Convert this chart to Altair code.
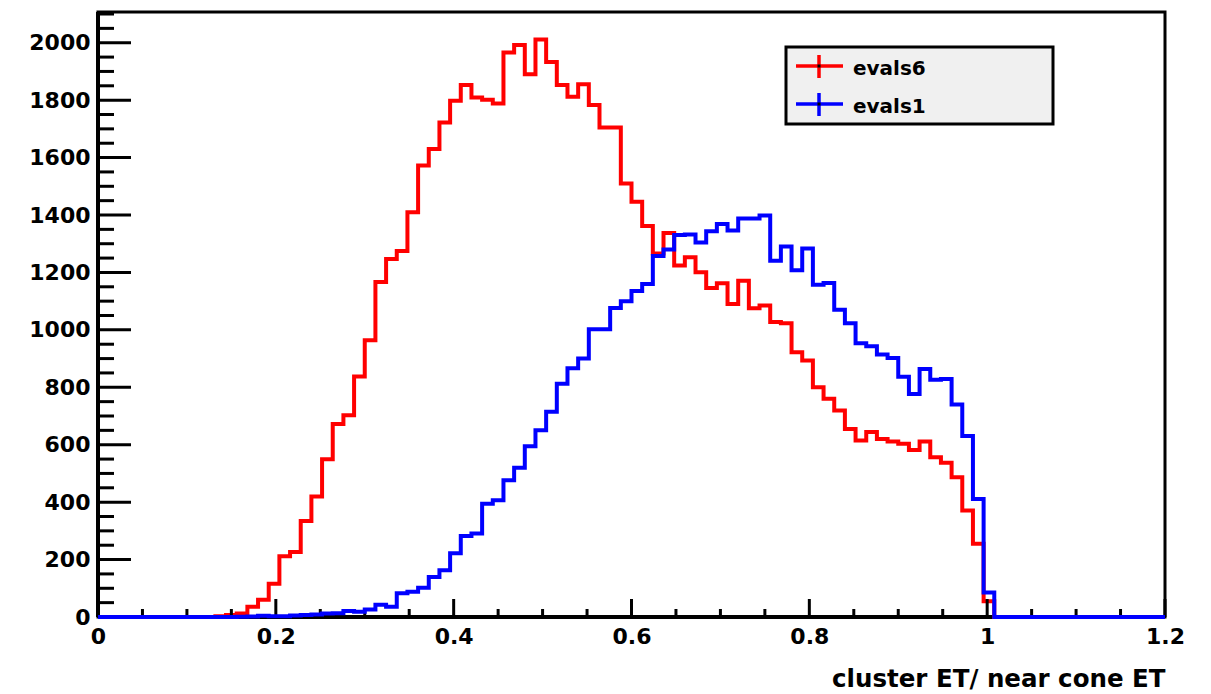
import altair as alt
import pandas as pd

# Histogram binning: 100 bins over [0, 1.2]
BIN_WIDTH = 0.012
N_BINS = 100

# Bin contents, one entry per bin starting at x = 0
evals6 = [
    0, 0, 0, 0, 0, 0, 0, 0, 0, 0,
    0, 3, 7, 12, 36, 60, 116, 212, 226, 334,
    420, 549, 672, 703, 838, 964, 1167, 1247, 1275, 1410,
    1572, 1630, 1722, 1798, 1853, 1809, 1801, 1788, 1966, 1992,
    1890, 2011, 1933, 1853, 1812, 1855, 1783, 1705, 1705, 1510,
    1446, 1362, 1266, 1337, 1224, 1253, 1201, 1146, 1162, 1090,
    1171, 1075, 1085, 1027, 1023, 922, 893, 800, 760, 719,
    655, 615, 644, 620, 611, 603, 582, 611, 556, 537,
    487, 371, 255, 55, 0, 0, 0, 0, 0, 0,
    0, 0, 0, 0, 0, 0, 0, 0, 0, 0,
]
evals1 = [
    0, 0, 0, 0, 0, 0, 0, 0, 0, 0,
    0, 0, 0, 1, 2, 4, 3, 3, 5, 7,
    9, 12, 13, 21, 18, 26, 43, 36, 83, 88,
    102, 139, 163, 222, 282, 291, 394, 407, 476, 520,
    595, 650, 715, 812, 866, 900, 1002, 1002, 1076, 1100,
    1135, 1160, 1257, 1280, 1330, 1332, 1304, 1343, 1369, 1346,
    1388, 1388, 1398, 1241, 1290, 1208, 1283, 1157, 1163, 1070,
    1023, 953, 943, 914, 902, 837, 777, 864, 826, 829,
    740, 630, 411, 85, 0, 0, 0, 0, 0, 0,
    0, 0, 0, 0, 0, 0, 0, 0, 0, 0,
]

series_names = ["evals6", "evals1"]
series_colors = ["#ff0000", "#0000ff"]

x_tick_labels = [0, 0.2, 0.4, 0.6, 0.8, 1.0, 1.2]
y_tick_labels = list(range(0, 2001, 200))
x_minor_step = 0.05
y_minor_step = 50
Y_MAX = 2107

W, H = 1067, 605
FONT = "DejaVu Sans"

x_scale = alt.Scale(domain=[0, N_BINS * BIN_WIDTH], nice=False, zero=False)
y_scale = alt.Scale(domain=[0, Y_MAX], nice=False)

x_axis = alt.Axis(
    values=x_tick_labels, format=".1~f", ticks=False, grid=False,
    domain=False, labelFont=FONT, labelFontWeight="bold", labelFontSize=22,
    labelColor="black", labelPadding=9, labelFlush=False,
    title="cluster ET/ near cone ET", titleFont=FONT, titleFontWeight="bold",
    titleFontSize=24.5, titleColor="black", titleAnchor="end", titlePadding=20,
)
y_axis = alt.Axis(
    values=y_tick_labels, format="d", ticks=False, grid=False, domain=False,
    labelFont=FONT, labelFontWeight="bold", labelFontSize=22,
    labelColor="black", labelPadding=8, title=None,
)


def step_frame(counts):
    rows = [{"x": i * BIN_WIDTH, "count": c} for i, c in enumerate(counts)]
    rows.append({"x": N_BINS * BIN_WIDTH, "count": counts[-1]})
    return pd.DataFrame(rows)


def hist_layer(counts, color):
    return alt.Chart(step_frame(counts)).mark_line(
        interpolate="step-after", color=color, strokeWidth=4, clip=False
    ).encode(
        x=alt.X("x:Q", scale=x_scale, axis=x_axis),
        y=alt.Y("count:Q", scale=y_scale, axis=y_axis),
        order="x:Q",
    )


# Inward tick marks along the bottom and left frame edges
x_ticks = pd.DataFrame({"x": [round(k * x_minor_step, 3) for k in range(25)]})
x_ticks["major"] = [k % 4 == 0 for k in range(25)]
y_ticks = pd.DataFrame({"count": [k * y_minor_step for k in range(43)]})
y_ticks["major"] = [k % 4 == 0 for k in range(43)]


def x_tick_layer(major, length):
    return alt.Chart(x_ticks[x_ticks["major"] == major]).mark_rule(
        color="black", strokeWidth=3
    ).encode(
        x=alt.X("x:Q", scale=x_scale, axis=x_axis),
        y=alt.value(H), y2=alt.value(H - length),
    )


def y_tick_layer(major, length):
    return alt.Chart(y_ticks[y_ticks["major"] == major]).mark_rule(
        color="black", strokeWidth=3
    ).encode(
        y=alt.Y("count:Q", scale=y_scale, axis=y_axis),
        x=alt.value(0), x2=alt.value(length),
    )


ticks = [
    x_tick_layer(True, 18), x_tick_layer(False, 8),
    y_tick_layer(True, 33), y_tick_layer(False, 16),
]

# Thicker left and bottom axis lines over the frame
axis_lines = [
    alt.Chart(pd.DataFrame({"k": [0]})).mark_rule(color="black", strokeWidth=4).encode(
        x=alt.value(0), y=alt.value(0), y2=alt.value(H)),
    alt.Chart(pd.DataFrame({"k": [0]})).mark_rule(color="black", strokeWidth=4).encode(
        x=alt.value(0), x2=alt.value(W), y=alt.value(H)),
]

# Legend box with error-bar style markers
one = pd.DataFrame({"k": [0]})
legend_box = alt.Chart(one).mark_rect(
    fill="#f0f0f0", stroke="black", strokeWidth=3
).encode(x=alt.value(688), x2=alt.value(955), y=alt.value(35), y2=alt.value(112))

legend_layers = [legend_box]
for name, color, cy in zip(series_names, series_colors, [54, 92]):
    legend_layers.append(alt.Chart(one).mark_rule(color=color, strokeWidth=3.5).encode(
        x=alt.value(698), x2=alt.value(745), y=alt.value(cy)))
    legend_layers.append(alt.Chart(one).mark_rule(color=color, strokeWidth=3.5).encode(
        x=alt.value(721), y=alt.value(cy - 11), y2=alt.value(cy + 12)))
    legend_layers.append(alt.Chart(one).mark_square(color="black", size=9, opacity=1).encode(
        x=alt.value(721), y=alt.value(cy)))
    legend_layers.append(alt.Chart(one).mark_text(
        text=name, font=FONT, fontWeight="bold", fontSize=20, color="black",
        align="left", baseline="alphabetic"
    ).encode(x=alt.value(755), y=alt.value(cy + 9)))

chart = alt.layer(
    *axis_lines,
    hist_layer(evals6, series_colors[0]),
    *ticks,
    hist_layer(evals1, series_colors[1]),
    *legend_layers,
).properties(
    width=W, height=H,
    padding={"left": 98, "top": 12, "right": 46, "bottom": 77},
    autosize=alt.AutoSizeParams(type="none"),
    background="white",
).configure_view(stroke="black", strokeWidth=3)

chart.save("out.html", embed_options={"renderer": "svg", "actions": False})
